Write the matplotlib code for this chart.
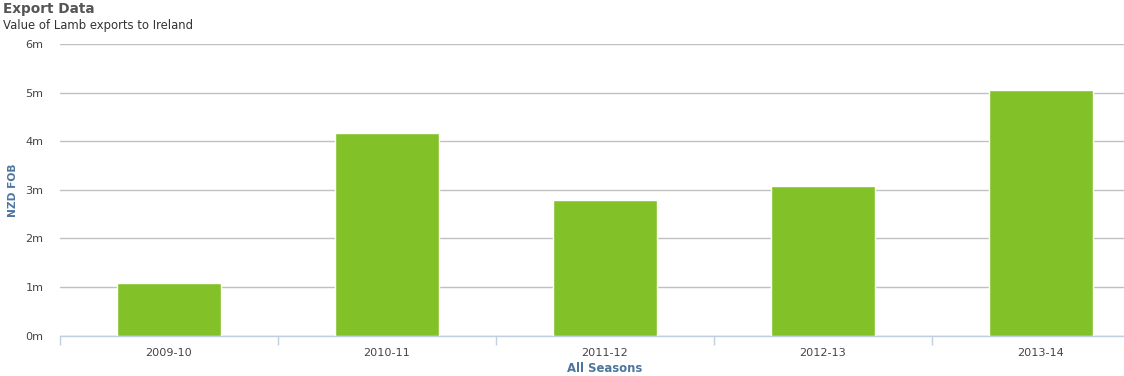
import matplotlib.pyplot as plt

# Values (NZD FOB, millions)
seasons = ['2009-10', '2010-11', '2011-12', '2012-13', '2013-14']
values = [1.09, 4.18, 2.79, 3.08, 5.06]
y_ticks = [0, 1, 2, 3, 4, 5, 6]
y_tick_labels = ['0m', '1m', '2m', '3m', '4m', '5m', '6m']

W, H = 1124, 376
fig = plt.figure(figsize=(W / 100, H / 100), dpi=100)

# plot area runs past the right edge of the picture, as in the reference
left, right = 59.5, 1150
bottom, top = 335.5, 44.3
ax = fig.add_axes([left / W, (H - bottom) / H, (right - left) / W, (bottom - top) / H])

x = list(range(len(seasons)))
ax.bar(x, values, width=0.477, color='#82c128', edgecolor='white', linewidth=1, zorder=3)

ax.set_xlim(-0.5, len(seasons) - 0.5)
ax.set_ylim(0, 6)
ax.set_yticks(y_ticks)
ax.set_yticklabels(y_tick_labels)
ax.yaxis.grid(True, color='#c0c0c0', linewidth=1)
ax.set_axisbelow(True)

ax.set_xticks(x)
ax.set_xticklabels(seasons)
ax.set_xticks([i + 0.5 for i in range(-1, len(seasons))], minor=True)
ax.tick_params(axis='x', which='major', length=0, pad=9, labelsize=8.1, labelcolor='#444444')
ax.tick_params(axis='x', which='minor', length=6.5, width=1, color='#c0d0e0', direction='out')
ax.tick_params(axis='y', length=0, pad=11.5, labelsize=8.1, labelcolor='#444444')

for s in ['top', 'right', 'left']:
    ax.spines[s].set_visible(False)
ax.spines['bottom'].set_color('#c0d0e0')
ax.spines['bottom'].set_linewidth(1)

fig.text(13 / W, 1 - 190 / H, 'NZD FOB', rotation=90, ha='center', va='center',
         fontsize=7.7, fontweight='bold', color='#4d759e')
fig.text(605 / W, 1 - 368 / H, 'All Seasons', ha='center', va='center',
         fontsize=8.4, fontweight='bold', color='#4d759e')

fig.text(3 / W, 1 - 8.5 / H, 'Export Data', ha='left', va='center',
         fontsize=9.8, fontweight='bold', color='#555555')
fig.text(3 / W, 1 - 25 / H, 'Value of Lamb exports to Ireland', ha='left', va='center',
         fontsize=8.4, color='#333333')

fig.savefig('out.png', dpi=100)
